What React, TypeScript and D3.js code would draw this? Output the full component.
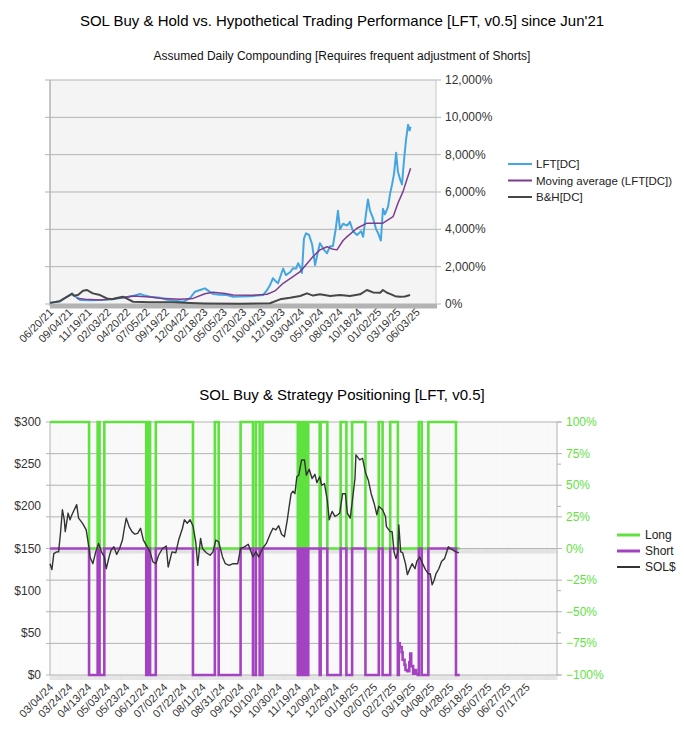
import React from 'react';
import * as d3 from 'd3';

// ---------- Top chart data ----------
const lftDates = ['2021-06-20','2021-07-29','2021-08-22','2021-09-15','2021-09-26','2021-10-16','2021-11-25','2022-01-03','2022-01-30','2022-03-03','2022-04-11','2022-05-13','2022-06-09','2022-06-29','2022-07-19','2022-08-27','2022-09-24','2022-10-25','2022-11-26','2022-12-23','2023-01-12','2023-02-01','2023-02-20','2023-03-12','2023-03-24','2023-04-20','2023-05-18','2023-06-11','2023-07-08','2023-08-17','2023-09-13','2023-10-07','2023-10-23','2023-11-03','2023-11-15','2023-11-27','2023-12-05','2023-12-25','2024-01-05','2024-01-21','2024-02-02','2024-02-14','2024-02-22','2024-03-01','2024-03-08','2024-03-16','2024-03-24','2024-04-05','2024-04-17','2024-04-29','2024-05-10','2024-05-18','2024-06-03','2024-06-15','2024-06-27','2024-07-08','2024-07-20','2024-07-28','2024-08-05','2024-08-17','2024-09-02','2024-09-13','2024-09-25','2024-10-11','2024-10-27','2024-11-04','2024-11-15','2024-11-23','2024-12-01','2024-12-13','2024-12-25','2025-01-02','2025-01-13','2025-01-21','2025-01-29','2025-02-10','2025-02-18','2025-02-26','2025-03-06','2025-03-14','2025-03-21','2025-03-29','2025-04-06','2025-04-14','2025-04-22','2025-04-30','2025-05-06','2025-05-10'];
const lftValues = [60,150,350,570,420,220,200,210,230,280,350,430,540,450,390,330,230,180,120,300,660,750,840,650,540,500,480,390,400,420,450,480,750,1000,1380,1200,1110,1900,1550,1700,1910,1900,2180,2000,1660,3500,3790,3700,3200,2090,2800,3250,2900,2720,3100,3100,4100,5000,4000,4300,4200,4400,3900,3700,3900,3600,4800,5600,5000,4600,4000,3800,3400,5100,4800,5200,5900,6400,7000,8100,7100,6700,6400,7700,8800,9600,9300,9500];

const maDates = ['2021-10-04','2021-11-05','2022-01-03','2022-03-03','2022-05-13','2022-07-19','2022-08-27','2022-11-14','2023-01-04','2023-02-20','2023-03-24','2023-05-10','2023-06-11','2023-08-28','2023-10-23','2023-11-23','2023-12-25','2024-02-02','2024-03-01','2024-04-21','2024-05-18','2024-06-15','2024-07-04','2024-07-24','2024-08-17','2024-09-02','2024-10-11','2024-11-19','2025-01-21','2025-03-02','2025-03-21','2025-04-10','2025-04-26','2025-05-10'];
const maValues = [310,260,215,300,430,380,310,250,300,550,630,560,480,470,520,700,1110,1470,1730,2540,2900,3070,2950,2900,3400,3610,4060,4330,4330,4680,5400,6020,6700,7270];

const bhDates = ['2021-06-20','2021-07-29','2021-08-22','2021-09-15','2021-09-22','2021-10-08','2021-10-28','2021-11-13','2021-11-25','2021-12-06','2022-01-03','2022-01-30','2022-02-19','2022-03-15','2022-04-03','2022-04-23','2022-05-13','2022-07-19','2022-10-17','2022-12-23','2023-02-20','2023-07-08','2023-11-03','2023-12-13','2024-01-21','2024-03-01','2024-03-28','2024-04-21','2024-05-18','2024-06-27','2024-08-05','2024-09-13','2024-10-23','2024-11-19','2024-12-13','2025-01-10','2025-01-21','2025-02-06','2025-02-18','2025-03-10','2025-03-29','2025-04-18','2025-05-08'];
const bhValues = [60,150,350,540,440,480,715,750,650,570,480,300,250,330,390,260,120,100,90,50,30,20,40,250,330,430,570,450,520,430,480,430,520,750,620,600,750,600,540,420,390,400,480];

const topTickLabels = ['06/20/21','09/04/21','11/19/21','02/03/22','04/20/22','07/05/22','09/19/22','12/04/22','02/18/23','05/05/23','07/20/23','10/04/23','12/19/23','03/04/24','05/19/24','08/03/24','10/18/24','01/02/25','03/19/25','06/03/25'];
const topYTicks = [0, 2000, 4000, 6000, 8000, 10000, 12000];
const topSeriesNames = ['LFT[DC]', 'Moving average (LFT[DC])', 'B&H[DC]'];

// ---------- Bottom chart data ----------
const solDates = ['2024-03-04','2024-03-06','2024-03-08','2024-03-11','2024-03-13','2024-03-15','2024-03-17','2024-03-19','2024-03-20','2024-03-23','2024-03-25','2024-03-27','2024-04-01','2024-04-03','2024-04-07','2024-04-11','2024-04-14','2024-04-15','2024-04-18','2024-04-21','2024-04-24','2024-04-27','2024-04-30','2024-05-02','2024-05-05','2024-05-07','2024-05-10','2024-05-13','2024-05-16','2024-05-19','2024-05-21','2024-05-23','2024-05-26','2024-05-29','2024-06-01','2024-06-04','2024-06-07','2024-06-10','2024-06-14','2024-06-17','2024-06-20','2024-06-23','2024-06-26','2024-06-30','2024-07-04','2024-07-06','2024-07-10','2024-07-14','2024-07-17','2024-07-21','2024-07-23','2024-07-26','2024-07-29','2024-08-01','2024-08-04','2024-08-06','2024-08-09','2024-08-11','2024-08-15','2024-08-19','2024-08-22','2024-08-25','2024-08-28','2024-09-01','2024-09-04','2024-09-08','2024-09-12','2024-09-17','2024-09-20','2024-09-24','2024-09-28','2024-10-03','2024-10-06','2024-10-09','2024-10-13','2024-10-17','2024-10-21','2024-10-24','2024-10-27','2024-10-30','2024-11-02','2024-11-05','2024-11-08','2024-11-10','2024-11-12','2024-11-14','2024-11-16','2024-11-18','2024-11-20','2024-11-23','2024-11-26','2024-11-28','2024-12-01','2024-12-04','2024-12-07','2024-12-09','2024-12-12','2024-12-14','2024-12-17','2024-12-20','2024-12-22','2024-12-25','2024-12-28','2024-12-31','2025-01-02','2025-01-05','2025-01-08','2025-01-10','2025-01-13','2025-01-15','2025-01-18','2025-01-19','2025-01-23','2025-01-26','2025-01-29','2025-02-01','2025-02-04','2025-02-07','2025-02-10','2025-02-12','2025-02-16','2025-02-19','2025-02-20','2025-02-24','2025-02-26','2025-02-28','2025-03-02','2025-03-04','2025-03-05','2025-03-07','2025-03-09','2025-03-12','2025-03-14','2025-03-17','2025-03-19','2025-03-22','2025-03-24','2025-03-27','2025-03-30','2025-04-02','2025-04-05','2025-04-07','2025-04-09','2025-04-11','2025-04-13','2025-04-16','2025-04-19','2025-04-22','2025-04-24','2025-04-26','2025-04-28','2025-05-01','2025-05-04','2025-05-07'];
const solPrices = [132,125,144,146,146,168,196,184,170,192,184,190,202,186,180,172,150,140,132,146,156,146,140,126,140,148,152,143,150,160,174,186,176,170,167,168,174,160,152,146,134,132,142,150,153,128,146,145,160,174,184,180,184,177,157,130,162,150,145,142,146,160,158,140,132,130,132,132,150,152,155,140,146,140,150,156,167,174,172,177,167,164,184,200,215,218,215,235,237,255,255,237,244,233,238,228,235,225,227,207,184,194,188,190,192,215,215,192,186,204,233,261,255,257,240,231,215,204,190,200,196,188,176,170,170,146,138,146,178,146,145,132,119,127,132,126,135,140,132,125,120,120,107,112,120,126,135,138,145,152,150,148,146,145];

const posDates = ['2024-03-04','2024-04-14','2024-04-23','2024-04-25','2024-04-30','2024-06-13','2024-06-15','2024-06-17','2024-06-23','2024-08-01','2024-08-24','2024-08-28','2024-09-20','2024-10-03','2024-10-06','2024-10-10','2024-10-13','2024-11-19','2024-11-21','2024-11-22','2024-11-24','2024-11-25','2024-11-27','2024-11-28','2024-11-30','2024-12-12','2024-12-13','2024-12-20','2025-01-03','2025-01-09','2025-01-15','2025-01-29','2025-02-12','2025-02-16','2025-02-24','2025-03-04','2025-03-05','2025-03-06','2025-03-08','2025-03-09','2025-03-11','2025-03-12','2025-03-14','2025-03-16','2025-03-17','2025-03-18','2025-03-20','2025-03-21','2025-03-23','2025-03-25','2025-03-26','2025-03-29','2025-04-05','2025-05-04','2025-05-08'];
const longPos = [100,0,100,0,100,0,100,0,100,0,100,0,100,0,100,0,100,0,100,0,100,0,100,0,100,0,100,0,100,0,100,0,100,0,100,0,0,0,0,0,0,0,0,0,0,0,0,0,0,0,100,0,100,0,0];
const shortPos = [0,-100,0,-100,0,-100,0,-100,0,-100,0,-100,0,-100,0,-100,0,-100,0,-100,0,-100,0,-100,0,-100,0,-100,0,-100,0,-100,0,-100,0,-100,-75,-78,-82,-88,-92,-96,-97,-90,-83,-93,-99,-96,-99,-100,0,-100,0,-100,-100];

const bottomTickLabels = ['03/04/24','03/24/24','04/13/24','05/03/24','05/23/24','06/12/24','07/02/24','07/22/24','08/11/24','08/31/24','09/20/24','10/10/24','10/30/24','11/19/24','12/09/24','12/29/24','01/18/25','02/07/25','02/27/25','03/19/25','04/08/25','04/28/25','05/18/25','06/07/25','06/27/25','07/17/25'];
const priceTicks = [0, 50, 100, 150, 200, 250, 300];
const pctTicks = [-100, -75, -50, -25, 0, 25, 50, 75, 100];
const bottomSeriesNames = ['Long', 'Short', 'SOL$'];

const FONT = '"Liberation Sans", Arial, sans-serif';
const parse = d3.timeParse('%Y-%m-%d');
const parseTick = d3.timeParse('%m/%d/%y');

export default function App() {
  // ---- top chart ----
  const tx = d3.scaleTime().domain([parse('2021-06-20')!, parse('2025-08-18')!]).range([50, 436]);
  const ty = d3.scaleLinear().domain([0, 12000]).range([304, 80]);
  const topLine = d3.line<[Date, number]>().x(d => tx(d[0])).y(d => ty(d[1]));
  const zipS = (ds: string[], vs: number[]) => ds.map((d, i) => [parse(d)!, vs[i]] as [Date, number]);
  const lft = zipS(lftDates, lftValues);
  const ma = zipS(maDates, maValues);
  const bh = zipS(bhDates, bhValues);
  const topColors = ['#45a6df', '#7d3d8e', '#474747'];
  const topWidths = [2, 1.5, 2];

  // ---- bottom chart ----
  const bStart = parse('2024-03-04')!;
  const bEnd = parse('2025-08-18')!;
  const bx = d3.scaleTime().domain([bStart, bEnd]).range([50, 557]);
  const byL = d3.scaleLinear().domain([0, 300]).range([675, 422]);
  const byR = d3.scaleLinear().domain([-100, 100]).range([675, 422]);
  const sol = zipS(solDates, solPrices);
  const longS = zipS(posDates, longPos);
  const shortS = zipS(posDates, shortPos);
  const stepLine = d3.line<[Date, number]>().x(d => bx(d[0])).y(d => byR(d[1])).curve(d3.curveStepAfter);
  const priceLine = d3.line<[Date, number]>().x(d => bx(d[0])).y(d => byL(d[1]));
  const days = d3.timeDay.range(bStart, d3.timeDay.offset(bEnd, 1));
  const fmtPct = (v: number) => d3.format(',')(v) + '%';
  const green = '#5fe23f';
  const purple = '#a443c2';

  return (
    <svg width={684} height={731} style={{ position: 'absolute', left: 0, top: 0, background: '#fff' }} fontFamily={FONT}>
      {/* ===== TOP CHART ===== */}
      <text x={342} y={26} textAnchor="middle" fontSize={15} fill="#000">SOL Buy &amp; Hold vs. Hypothetical Trading Performance [LFT, v0.5] since Jun'21</text>
      <text x={342} y={60} textAnchor="middle" fontSize={12} fill="#111">Assumed Daily Compounding [Requires frequent adjustment of Shorts]</text>
      <rect x={50} y={80} width={386} height={224} fill="#f4f4f4" />
      {topYTicks.map(v => (
        <g key={'tg' + v}>
          <line x1={45} x2={441} y1={ty(v)} y2={ty(v)} stroke="#b3b3b3" strokeWidth={1} />
          <text x={445} y={ty(v) + 4} fontSize={12} fill="#333">{fmtPct(v)}</text>
        </g>
      ))}
      <line x1={50} x2={50} y1={80} y2={306} stroke="#b3b3b3" strokeWidth={1.5} />
      <line x1={436} x2={436} y1={80} y2={306} stroke="#c8c8c8" strokeWidth={1} />
      <rect x={50} y={304} width={387} height={4.5} fill="#b3b3b3" />
      <path d={topLine(lft)!} fill="none" stroke={topColors[0]} strokeWidth={topWidths[0]} strokeLinejoin="round" />
      <path d={topLine(ma)!} fill="none" stroke={topColors[1]} strokeWidth={topWidths[1]} strokeLinejoin="round" />
      <path d={topLine(bh)!} fill="none" stroke={topColors[2]} strokeWidth={topWidths[2]} strokeLinejoin="round" />
      {topTickLabels.map(l => {
        const x = tx(parseTick(l)!);
        return (
          <text key={'tl' + l} transform={`translate(${x + 4},${313}) rotate(-45)`} textAnchor="end" fontSize={11} fill="#333">{l}</text>
        );
      })}
      {topSeriesNames.map((n, i) => (
        <g key={'lg' + n}>
          <line x1={508} x2={532} y1={164 + i * 16.5} y2={164 + i * 16.5} stroke={topColors[i]} strokeWidth={2} />
          <text x={536} y={164 + i * 16.5 + 4} fontSize={11.5} fill="#222">{n}</text>
        </g>
      ))}

      {/* ===== BOTTOM CHART ===== */}
      <text x={342} y={400} textAnchor="middle" fontSize={15} fill="#000">SOL Buy &amp; Strategy Positioning [LFT, v0.5]</text>
      <rect x={50} y={422} width={507} height={253} fill="#fdfdfd" />
      {days.map((d, i) => (
        <line key={'vg' + i} x1={bx(d)} x2={bx(d)} y1={422} y2={675} stroke="#ececec" strokeWidth={0.22} />
      ))}
      {pctTicks.map(v => (
        <g key={'bg' + v}>
          <line x1={46} x2={562} y1={byR(v)} y2={byR(v)} stroke="#b3b3b3" strokeWidth={1} />
          <text x={566} y={byR(v) + 4} fontSize={12} fill={green}>{fmtPct(v)}</text>
        </g>
      ))}
      {priceTicks.map(v => (
        <g key={'pt' + v}>
          <line x1={557} x2={561} y1={byL(v)} y2={byL(v)} stroke="#b3b3b3" strokeWidth={1} />
          <text x={41} y={byL(v) + 4} textAnchor="end" fontSize={12} fill="#333">{'$' + v}</text>
        </g>
      ))}
      <line x1={50} x2={50} y1={422} y2={675} stroke="#b3b3b3" strokeWidth={1} />
      <line x1={557} x2={557} y1={422} y2={675} stroke="#b3b3b3" strokeWidth={1} />
      {days.map((d, i) => (
        <g key={'dt' + i}>
          <line x1={bx(d)} x2={bx(d)} y1={byR(0)} y2={byR(0) + 5} stroke="#c4c4c4" strokeWidth={0.45} />
          <line x1={bx(d)} x2={bx(d)} y1={675} y2={680} stroke="#c4c4c4" strokeWidth={0.45} />
        </g>
      ))}
      <path d={stepLine(longS)!} fill="none" stroke={green} strokeWidth={2.6} />
      <path d={stepLine(shortS)!} fill="none" stroke={purple} strokeWidth={2.6} />
      <path d={priceLine(sol)!} fill="none" stroke="#333" strokeWidth={1.4} strokeLinejoin="round" />
      {bottomTickLabels.map(l => {
        const x = bx(parseTick(l)!);
        return (
          <text key={'bl' + l} transform={`translate(${x + 4},${688}) rotate(-45)`} textAnchor="end" fontSize={11} fill="#333">{l}</text>
        );
      })}
      {bottomSeriesNames.map((n, i) => (
        <g key={'bl2' + n}>
          <line x1={617} x2={640} y1={535 + i * 16} y2={535 + i * 16} stroke={[green, purple, '#333'][i]} strokeWidth={i < 2 ? 3 : 2} />
          <text x={645} y={535 + i * 16 + 4} fontSize={12} fill="#222">{n}</text>
        </g>
      ))}
    </svg>
  );
}
